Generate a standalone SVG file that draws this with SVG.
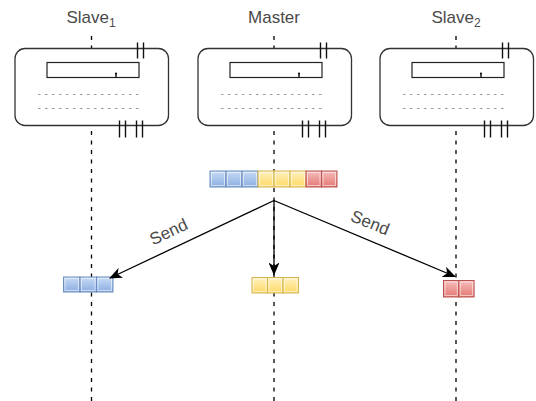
<svg xmlns="http://www.w3.org/2000/svg" width="536" height="401" viewBox="0 0 536 401">
  <style>
    .lbl { font-family: "Liberation Sans", Arial, sans-serif; font-size: 17px; fill: #4a4a4a; }
    .sub { font-size: 12px; }
    .life { stroke: #000; stroke-width: 1.3; stroke-dasharray: 4 5.5; fill: none; }
    .frame { fill: #fff; stroke: #333; stroke-width: 1.3; }
    .slot { fill: #fff; stroke: #222; stroke-width: 1.2; }
    .dots { stroke: #999; stroke-width: 1; stroke-dasharray: 2.5 4.5; }
    .tick { stroke: #111; stroke-width: 1.4; }
    .edge { stroke: #000; stroke-width: 1.3; fill: none; }
    .b { fill: url(#gBlue); stroke: #6c8ebf; }
    .y { fill: url(#gYellow); stroke: #d6b656; }
    .r { fill: url(#gRed); stroke: #b85450; }
    .hi { fill: none; stroke: #fff; stroke-opacity: 0.55; stroke-width: 1; }
  </style>
  <defs>
    <linearGradient id="gBlue" x1="0" y1="0" x2="0" y2="1">
      <stop offset="0" stop-color="#c9dbf5"/>
      <stop offset="1" stop-color="#8aaee2"/>
    </linearGradient>
    <linearGradient id="gYellow" x1="0" y1="0" x2="0" y2="1">
      <stop offset="0" stop-color="#fff0c0"/>
      <stop offset="1" stop-color="#ffd966"/>
    </linearGradient>
    <linearGradient id="gRed" x1="0" y1="0" x2="0" y2="1">
      <stop offset="0" stop-color="#f6bdbb"/>
      <stop offset="1" stop-color="#e57874"/>
    </linearGradient>
    <marker id="arrow" viewBox="0 0 13 11" refX="12" refY="5.5" markerWidth="13" markerHeight="11" markerUnits="userSpaceOnUse" orient="auto">
      <path d="M0,0 L13,5.5 L0,11 L3.5,5.5 z" fill="#000"/>
    </marker>
    <!-- device frame drawn relative to its top-left corner -->
    <g id="device">
      <rect class="frame" x="0" y="0" width="153.5" height="77" rx="10"/>
      <rect class="slot" x="32" y="14" width="92" height="15"/>
      <line class="tick" x1="101" y1="25" x2="101" y2="29" stroke-width="1.2"/>
      <circle cx="101" cy="25" r="1.1" fill="#111"/>
      <line class="dots" x1="23" y1="46" x2="126" y2="46"/>
      <line class="dots" x1="23" y1="60" x2="126" y2="60"/>
      <line class="tick" x1="122.5" y1="-6" x2="122.5" y2="10"/>
      <line class="tick" x1="128.5" y1="-6" x2="128.5" y2="10"/>
      <line class="tick" x1="104.5" y1="72" x2="104.5" y2="89"/>
      <line class="tick" x1="110.5" y1="72" x2="110.5" y2="89"/>
      <line class="tick" x1="121.5" y1="72" x2="121.5" y2="89"/>
      <line class="tick" x1="127.5" y1="72" x2="127.5" y2="89"/>
    </g>
  </defs>

  <rect width="536" height="401" fill="#fff"/>

  <!-- lifelines -->
  <g id="lifelines">
    <line class="life" x1="91.5" y1="36" x2="91.5" y2="401"/>
    <line class="life" x1="274" y1="36" x2="274" y2="401"/>
    <line class="life" x1="456" y1="36" x2="456" y2="401"/>
  </g>

  <g id="slave1">
    <text class="lbl" x="91" y="22.5" text-anchor="middle">Slave<tspan class="sub" dy="4">1</tspan></text>
    <use href="#device" x="15" y="48.5"/>
  </g>

  <g id="master">
    <text class="lbl" x="274" y="22.5" text-anchor="middle">Master</text>
    <use href="#device" x="198" y="48.5"/>
  </g>

  <g id="slave2">
    <text class="lbl" x="456" y="22.5" text-anchor="middle">Slave<tspan class="sub" dy="4">2</tspan></text>
    <use href="#device" x="380" y="48.5"/>
  </g>

  <!-- full buffer on master -->
  <g id="buffer-master">
    <rect class="b" x="210" y="171" width="16" height="16"/>
    <rect class="b" x="226" y="171" width="16" height="16"/>
    <rect class="b" x="242" y="171" width="16" height="16"/>
    <rect class="y" x="258" y="171" width="16" height="16"/>
    <rect class="y" x="274" y="171" width="16" height="16"/>
    <rect class="y" x="290" y="171" width="16" height="16"/>
    <rect class="r" x="306" y="171" width="15.5" height="16"/>
    <rect class="r" x="321.5" y="171" width="15.5" height="16"/>
    <g class="hi">
      <rect x="211.5" y="172.5" width="13" height="13"/>
      <rect x="227.5" y="172.5" width="13" height="13"/>
      <rect x="243.5" y="172.5" width="13" height="13"/>
      <rect x="259.5" y="172.5" width="13" height="13"/>
      <rect x="275.5" y="172.5" width="13" height="13"/>
      <rect x="291.5" y="172.5" width="13" height="13"/>
      <rect x="307.5" y="172.5" width="12.5" height="13"/>
      <rect x="323" y="172.5" width="12.5" height="13"/>
    </g>
  </g>

  <!-- scattered parts -->
  <g id="part-slave1">
    <rect class="b" x="63.5" y="277" width="16.5" height="15"/>
    <rect class="b" x="80" y="277" width="16.5" height="15"/>
    <rect class="b" x="96.5" y="277" width="16.5" height="15"/>
    <g class="hi">
      <rect x="65" y="278.5" width="13.5" height="12"/>
      <rect x="81.5" y="278.5" width="13.5" height="12"/>
      <rect x="98" y="278.5" width="13.5" height="12"/>
    </g>
  </g>

  <g id="part-master">
    <rect class="y" x="252" y="277.5" width="15.5" height="15.5"/>
    <rect class="y" x="267.5" y="277.5" width="15.5" height="15.5"/>
    <rect class="y" x="283" y="277.5" width="15.5" height="15.5"/>
    <g class="hi">
      <rect x="253.5" y="279" width="12.5" height="12.5"/>
      <rect x="269" y="279" width="12.5" height="12.5"/>
      <rect x="284.5" y="279" width="12.5" height="12.5"/>
    </g>
  </g>

  <g id="part-slave2">
    <rect class="r" x="443.5" y="280.5" width="15.3" height="16.5"/>
    <rect class="r" x="458.8" y="280.5" width="15.3" height="16.5"/>
    <g class="hi">
      <rect x="445" y="282" width="12.3" height="13.5"/>
      <rect x="460.3" y="282" width="12.3" height="13.5"/>
    </g>
  </g>

  <!-- connectors -->
  <g id="connectors">
    <line class="edge" x1="274" y1="200.5" x2="110" y2="278" marker-end="url(#arrow)"/>
    <line class="edge" x1="274" y1="200.5" x2="274" y2="274.5" marker-end="url(#arrow)"/>
    <line class="edge" x1="274" y1="200.5" x2="455" y2="276.5" marker-end="url(#arrow)"/>
    <text class="lbl" transform="translate(171 237) rotate(-25)" text-anchor="middle">Send</text>
    <text class="lbl" transform="translate(368 228) rotate(22)" text-anchor="middle">Send</text>
  </g>
</svg>
